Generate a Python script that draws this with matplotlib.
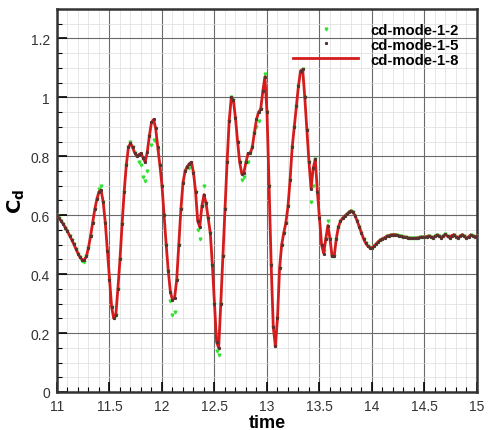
import matplotlib
matplotlib.use("Agg")
import matplotlib.pyplot as plt
from matplotlib.ticker import MultipleLocator
import numpy as np

plt.rcParams['font.family'] = ['Liberation Sans', 'DejaVu Sans']

# time step of the sampled signal (s) and start time
t_start = 11.0
t_step = 0.02

# cd-mode-1-8, one row = 0.2 s (10 samples)
cd_mode_1_8 = [
    0.600, 0.590, 0.580, 0.570, 0.558, 0.545, 0.531, 0.517, 0.502, 0.486,   # 11.0
    0.470, 0.457, 0.449, 0.449, 0.460, 0.490, 0.530, 0.575, 0.620, 0.655,   # 11.2
    0.680, 0.685, 0.645, 0.575, 0.480, 0.380, 0.290, 0.250, 0.260, 0.350,   # 11.4
    0.450, 0.570, 0.680, 0.770, 0.830, 0.845, 0.830, 0.812, 0.800, 0.806,   # 11.6
    0.810, 0.795, 0.780, 0.815, 0.870, 0.915, 0.925, 0.895, 0.830, 0.770,   # 11.8
    0.700, 0.600, 0.500, 0.410, 0.340, 0.312, 0.320, 0.380, 0.500, 0.620,   # 12.0
    0.710, 0.750, 0.765, 0.775, 0.780, 0.745, 0.680, 0.580, 0.560, 0.630,   # 12.2
    0.670, 0.640, 0.590, 0.540, 0.430, 0.300, 0.170, 0.150, 0.300, 0.460,   # 12.4
    0.620, 0.780, 0.920, 1.000, 0.990, 0.930, 0.850, 0.780, 0.740, 0.745,   # 12.6
    0.780, 0.810, 0.810, 0.830, 0.880, 0.925, 0.950, 0.960, 1.020, 1.070,   # 12.8
    0.950, 0.700, 0.430, 0.220, 0.155, 0.250, 0.420, 0.500, 0.540, 0.575,   # 13.0
    0.630, 0.720, 0.830, 0.900, 0.970, 1.040, 1.090, 1.095, 1.000, 0.890,   # 13.2
    0.780, 0.690, 0.760, 0.790, 0.680, 0.590, 0.500, 0.470, 0.520, 0.565,   # 13.4
    0.520, 0.460, 0.460, 0.520, 0.560, 0.580, 0.590, 0.597, 0.603, 0.610,   # 13.6
    0.615, 0.610, 0.598, 0.580, 0.560, 0.540, 0.520, 0.505, 0.495, 0.490,   # 13.8
    0.490, 0.495, 0.502, 0.510, 0.516, 0.520, 0.524, 0.528, 0.531, 0.533,   # 14.0
    0.534, 0.534, 0.532, 0.530, 0.528, 0.527, 0.525, 0.523, 0.522, 0.521,   # 14.2
    0.521, 0.522, 0.523, 0.525, 0.526, 0.525, 0.527, 0.530, 0.527, 0.524,   # 14.4
    0.528, 0.533, 0.529, 0.524, 0.530, 0.535, 0.528, 0.524, 0.531, 0.534,   # 14.6
    0.527, 0.523, 0.529, 0.534, 0.528, 0.522, 0.527, 0.533, 0.530, 0.527,   # 14.8
    0.530,                                                                  # 15.0
]

# cd-mode-1-5 lies on top of mode-1-8 everywhere
cd_mode_1_5 = list(cd_mode_1_8)

# cd-mode-1-2 differs from mode-1-8 only near the extrema (index -> value)
mode_1_2_diff = {
    12: 0.445, 13: 0.440, 20: 0.690, 21: 0.700, 35: 0.850,
    39: 0.780, 40: 0.770, 41: 0.730, 42: 0.715, 43: 0.750,
    45: 0.840, 46: 0.855, 47: 0.850, 48: 0.820,
    54: 0.310, 55: 0.260, 56: 0.270,
    63: 0.760, 64: 0.770, 67: 0.550, 68: 0.520, 70: 0.700,
    76: 0.140, 77: 0.125, 88: 0.720, 89: 0.730, 91: 0.780,
    95: 0.900, 96: 0.920, 99: 1.080,
    121: 0.645, 122: 0.700, 127: 0.480, 129: 0.580,
}
cd_mode_1_2 = list(cd_mode_1_8)
for i, v in mode_1_2_diff.items():
    cd_mode_1_2[i] = v

time = t_start + t_step * np.arange(len(cd_mode_1_8))

fig = plt.figure(figsize=(4.93, 4.31), dpi=100)
ax = fig.add_axes([0.1156, 0.0882, 0.8519, 0.8886])

ax.plot(time, cd_mode_1_2, linestyle='none', marker='v', markersize=2.0,
        color='#33e033', label='cd-mode-1-2', zorder=3)
ax.plot(time, cd_mode_1_8, color='#d41c1c', linewidth=2.0,
        label='cd-mode-1-8', zorder=4)
ax.plot(time, cd_mode_1_5, linestyle='none', marker='s', markersize=1.2,
        color='#5a3030', label='cd-mode-1-5', zorder=5)

ax.set_xlim(11, 15)
ax.set_ylim(0, 1.3)
ax.xaxis.set_major_locator(MultipleLocator(0.5))
ax.xaxis.set_minor_locator(MultipleLocator(0.1))
ax.yaxis.set_major_locator(MultipleLocator(0.2))
ax.yaxis.set_minor_locator(MultipleLocator(0.05))


def fmt(v, pos):
    return '%g' % round(v, 2)


ax.xaxis.set_major_formatter(plt.FuncFormatter(fmt))
ax.yaxis.set_major_formatter(plt.FuncFormatter(fmt))

ax.grid(which='major', color='#6a6a6a', linewidth=0.8)
ax.grid(which='minor', color='#dcdcdc', linewidth=0.5)
ax.set_axisbelow(True)

ax.tick_params(which='major', direction='in', length=7, width=1.2,
               labelsize=10, labelcolor='#333333', top=False, right=False, pad=5)
ax.tick_params(which='minor', direction='in', length=3.5, width=0.8,
               top=False, right=False)
for s in ax.spines.values():
    s.set_linewidth(1.8)
    s.set_color('#333333')

ax.set_xlabel('time', fontsize=13, fontweight='bold', labelpad=1)
ax.set_ylabel(r'$\mathbf{C_d}$', fontsize=14, labelpad=3)

handles, labels = ax.get_legend_handles_labels()
order = [0, 2, 1]
ax.legend([handles[i] for i in order], [labels[i] for i in order],
          loc='upper left', bbox_to_anchor=(0.562, 0.964), frameon=False,
          prop={'weight': 'bold', 'size': 10.7}, handlelength=4.4,
          labelspacing=0.06, handletextpad=0.8, markerscale=1.0,
          borderpad=0, borderaxespad=0)

fig.savefig('out.png', dpi=100)
